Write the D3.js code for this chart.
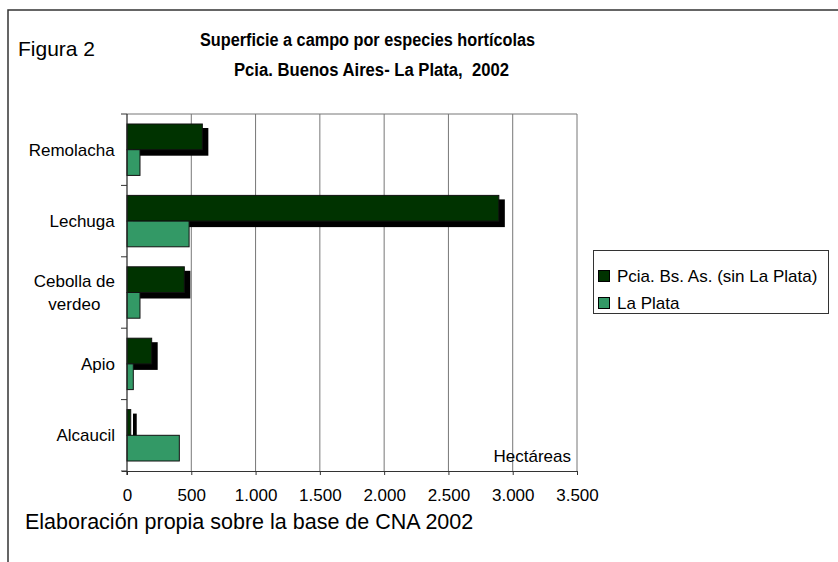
<!DOCTYPE html>
<html><head><meta charset="utf-8">
<script src="https://cdn.jsdelivr.net/npm/d3@7"></script>
<style>
html,body{margin:0;padding:0;background:#fff;}
svg{display:block;font-family:Arial,"Liberation Sans",sans-serif;}
</style></head>
<body><svg id="c" width="838" height="562"></svg>
<script>
const categories = ["Remolacha", "Lechuga", "Cebolla de verdeo", "Apio", "Alcaucil"];
const categoryLines = [["Remolacha"], ["Lechuga"], ["Cebolla de", "verdeo"], ["Apio"], ["Alcaucil"]];
const seriesNames = ["Pcia. Bs. As. (sin La Plata)", "La Plata"];
const provValues = [586, 2892, 446, 192, 29];
const laPlataValues = [101, 483, 101, 49, 407];
const tickValues = [0, 500, 1000, 1500, 2000, 2500, 3000, 3500];
const tickLabels = ["0", "500", "1.000", "1.500", "2.000", "2.500", "3.000", "3.500"];
const colors = ["#003300", "#339966"];

const svg = d3.select("#c");
const L = 127, R = 577, T = 114, B = 471;
const FS = 17;

// outer frame
svg.append("path").attr("d", "M8,562 L8,10 L838,10")
  .attr("fill", "none").attr("stroke", "#333").attr("stroke-width", 1.5);

const x = d3.scaleLinear().domain([0, 3500]).range([L, R]);
const y0 = d3.scaleBand().domain(categories).range([T, B]).padding(0);
const bw = y0.bandwidth();
const y1 = d3.scaleBand().domain(seriesNames).range([bw * 0.14, bw * 0.86]).padding(0);

// gridlines
svg.append("g").selectAll("line").data(tickValues.slice(1)).join("line")
  .attr("x1", d => x(d)).attr("x2", d => x(d)).attr("y1", T).attr("y2", B)
  .attr("stroke", "#777").attr("stroke-width", 1);
svg.append("line").attr("x1", L).attr("x2", R).attr("y1", T).attr("y2", T)
  .attr("stroke", "#777").attr("stroke-width", 1);

const data = categories.map((c, i) => ({cat: c, vals: [provValues[i], laPlataValues[i]]}));

const g = svg.append("g");
data.forEach(d => {
  const yb = y0(d.cat);
  g.append("rect")
    .attr("x", x(0) + 6).attr("y", yb + y1(seriesNames[0]) + 4)
    .attr("width", Math.max(0, x(d.vals[0]) - x(0))).attr("height", y1.bandwidth() + 2)
    .attr("fill", "#000");
  g.append("rect")
    .attr("x", x(0)).attr("y", yb + y1(seriesNames[0]))
    .attr("width", x(d.vals[0]) - x(0)).attr("height", y1.bandwidth())
    .attr("fill", colors[0]).attr("stroke", "#111").attr("stroke-width", 1);
});
data.forEach(d => {
  const yb = y0(d.cat);
  g.append("rect")
    .attr("x", x(0)).attr("y", yb + y1(seriesNames[1]))
    .attr("width", x(d.vals[1]) - x(0)).attr("height", y1.bandwidth())
    .attr("fill", colors[1]).attr("stroke", "#111").attr("stroke-width", 1);
});

// x axis
const xAxis = d3.axisBottom(x).tickValues(tickValues).tickSize(4).tickPadding(10)
  .tickFormat((d, i) => tickLabels[i]);
const xa = svg.append("g").attr("transform", `translate(0,${B})`).call(xAxis);
xa.select(".domain").attr("stroke", "#333").attr("d", `M${L-5},0.5H${R}`);
xa.selectAll(".tick line").attr("stroke", "#333");
xa.selectAll("text").attr("font-size", FS).attr("fill", "#000")
  .attr("font-family", "Arial, 'Liberation Sans', sans-serif")
  .attr("y", 30).attr("dy", null);

// y axis
const ya = svg.append("g");
ya.append("line").attr("x1", L).attr("x2", L).attr("y1", T).attr("y2", B + 4).attr("stroke", "#222").attr("stroke-width", 1.2);
ya.selectAll("line.t").data(categories.concat(["_end"])).join("line").attr("class", "t")
  .attr("x1", L - 6).attr("x2", L)
  .attr("y1", (d, i) => T + i * bw).attr("y2", (d, i) => T + i * bw)
  .attr("stroke", "#333");

// category labels
categories.forEach((c, i) => {
  const lines = categoryLines[i];
  const cy = y0(c) + bw / 2;
  const n = lines.length;
  const t = svg.append("text").attr("font-size", FS).attr("fill", "#000")
    .attr("text-anchor", "middle");
  lines.forEach((ln, j) => {
    t.append("tspan").attr("x", 0).attr("y", cy + (j - (n - 1) / 2) * 22.7 + 6).text(ln);
  });
  const w = t.node().getBBox().width;
  t.selectAll("tspan").attr("x", 115 - w / 2);
});

// Hectáreas
svg.append("text").attr("x", 571).attr("y", 462).attr("text-anchor", "end")
  .attr("font-size", FS).text("Hectáreas");

// legend
const lg = svg.append("g");
lg.append("rect").attr("x", 593.5).attr("y", 250.5).attr("width", 235).attr("height", 63)
  .attr("fill", "#fff").attr("stroke", "#333").attr("stroke-width", 1);
seriesNames.forEach((s, i) => {
  lg.append("rect").attr("x", 598.5).attr("y", 270.5 + i * 27).attr("width", 11).attr("height", 11)
    .attr("fill", colors[i]).attr("stroke", "#000");
  lg.append("text").attr("x", 617).attr("y", 282 + i * 26.5).attr("font-size", FS).text(s);
});

// titles
svg.append("text").attr("x", 18).attr("y", 56).attr("font-size", 21).text("Figura 2");
function fitText(sel, width) {
  const w = sel.node().getComputedTextLength();
  sel.attr("textLength", width).attr("lengthAdjust", "spacingAndGlyphs");
}
const t1 = svg.append("text").attr("x", 200).attr("y", 46)
  .attr("font-size", 18).attr("font-weight", "bold").text("Superficie a campo por especies hortícolas");
fitText(t1, 335);
const t2 = svg.append("text").attr("x", 234).attr("y", 76)
  .attr("font-size", 18).attr("font-weight", "bold").attr("xml:space", "preserve").style("white-space", "pre")
  .text("Pcia. Buenos Aires- La Plata,  2002");
fitText(t2, 275);

// footer
svg.append("text").attr("x", 25).attr("y", 529).attr("font-size", 21.5)
  .text("Elaboración propia sobre la base de CNA 2002");
</script></body></html>
